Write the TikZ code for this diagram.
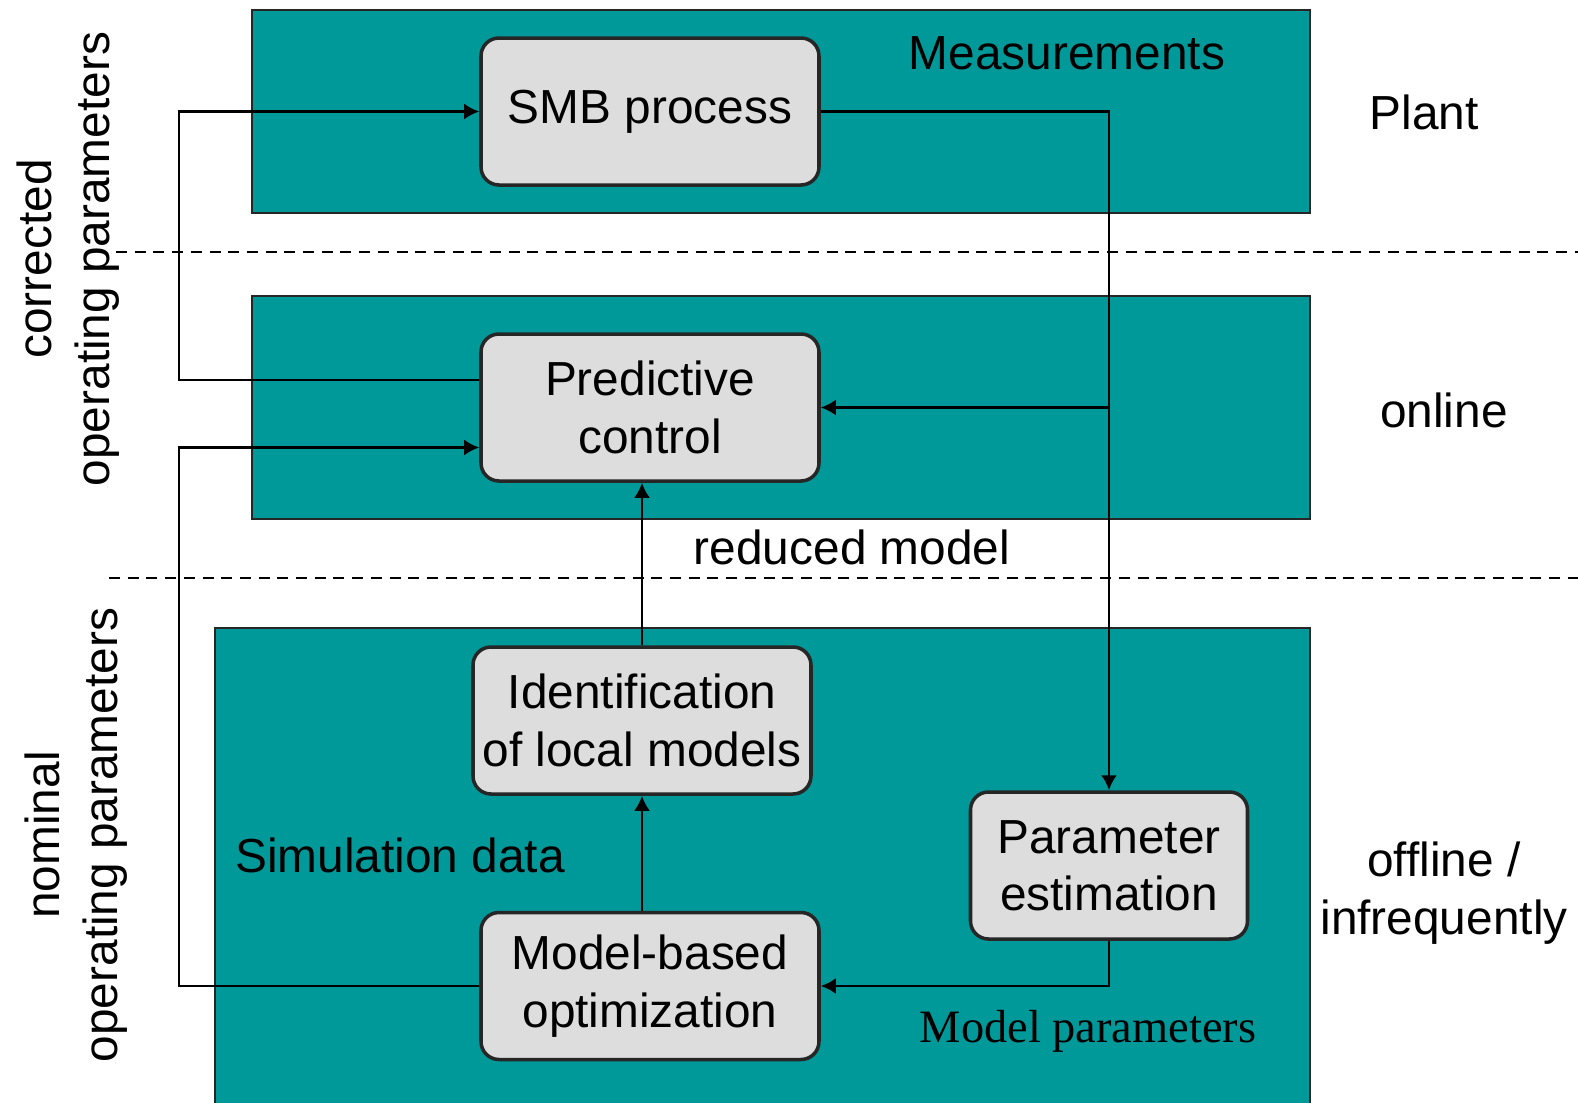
\documentclass[tikz,border=0pt]{standalone}
\usepackage{fontspec}
\setmainfont{Liberation Sans}
\newfontfamily\serifmodel{Liberation Serif}
\usepackage{tikz}
\usetikzlibrary{arrows.meta,positioning,calc}
\definecolor{stageteal}{RGB}{0,153,153}
\definecolor{boxgray}{RGB}{221,221,221}

\begin{document}
\begin{tikzpicture}[
    >={Latex[length=1.5mm,width=1.6mm]},
    stage/.style={
        fill=stageteal,
        draw=black!85,
        line width=0.6pt
    },
    procbox/.style={
        rounded corners=0.18cm,
        draw=black!85,
        fill=boxgray,
        line width=1pt,
        minimum width=3.38cm,
        minimum height=1.47cm,
        align=center,
        inner sep=0pt,
        font=\fontsize{13.6}{16.3}\selectfont
    },
    lbl/.style={
        align=center,
        inner sep=0pt,
        font=\fontsize{13.6}{16.3}\selectfont
    },
    flow/.style={
        ->,
        line width=0.8pt
    },
    sep/.style={
        dash pattern=on 1.1mm off 0.77mm,
        line width=0.7pt
    }
]
\useasboundingbox (0,0) rectangle (15.78,-11.02);

% stage backgrounds
\draw[stage] (2.52,-0.10) rectangle (13.10,-2.13);
\draw[stage] (2.52,-2.96) rectangle (13.10,-5.19);
\draw[stage] (2.15,-6.28) rectangle (13.10,-11.06);

% separators
\coordinate (sepA) at (1.16,-2.52);
\coordinate (sepB) at (15.78,-2.52);
\coordinate (sepC) at (1.09,-5.78);
\coordinate (sepD) at (15.78,-5.78);
\draw[sep] (sepA) -- (sepB);
\draw[sep] (sepC) -- (sepD);

% process boxes
\node[procbox] (smb) at (6.50,-1.115) {SMB process};
\node[procbox] (pc) at (6.50,-4.075) {Predictive\\control};
\node[procbox] (ident) at (6.42,-7.205) {Identification\\of local models};
\node[procbox,minimum width=2.77cm] (pe) at (11.09,-8.655) {Parameter\\estimation};
\node[procbox] (mbo) at (6.50,-9.86) {Model-based\\optimization};

% labels
\node[lbl] (meas) at (10.67,-0.53) {Measurements};
\node[lbl] (plant) at (14.24,-1.12) {Plant};
\node[lbl] (online) at (14.44,-4.10) {online};
\node[lbl] (offline) at (14.44,-8.93) {offline /\\infrequently};
\node[lbl] (redmod) at (8.52,-5.47) {reduced model};
\node[lbl] (simdata) at (4.00,-8.55) {Simulation data};
\node[lbl,font=\serifmodel\fontsize{13.2}{16}\selectfont] (modpar) at (10.88,-10.31) {Model parameters};
\node[lbl,rotate=90] (corr) at (0.68,-2.59) {corrected\\operating parameters};
\node[lbl,rotate=90] (nomi) at (0.76,-8.35) {nominal\\operating parameters};

% connectors
\coordinate (lx) at (1.79,0);
\coordinate (pcout) at ([yshift=2.75mm]pc.west);
\coordinate (pcin) at ([yshift=-4mm]pc.west);
\draw[flow] (pcout) -| (lx |- smb.west) -- (smb.west);
\draw[flow] (mbo.west) -| (lx |- pcin) -- (pcin);
\draw[flow] (smb.east) -| (pe.north);
\draw[flow] (pe.north |- pc.east) -- (pc.east);
\draw[flow] (ident.north) -- (ident.north |- pc.south);
\draw[flow] (ident.south |- mbo.north) -- (ident.south);
\draw[flow] (pe.south) |- (mbo.east);

\end{tikzpicture}
\end{document}
